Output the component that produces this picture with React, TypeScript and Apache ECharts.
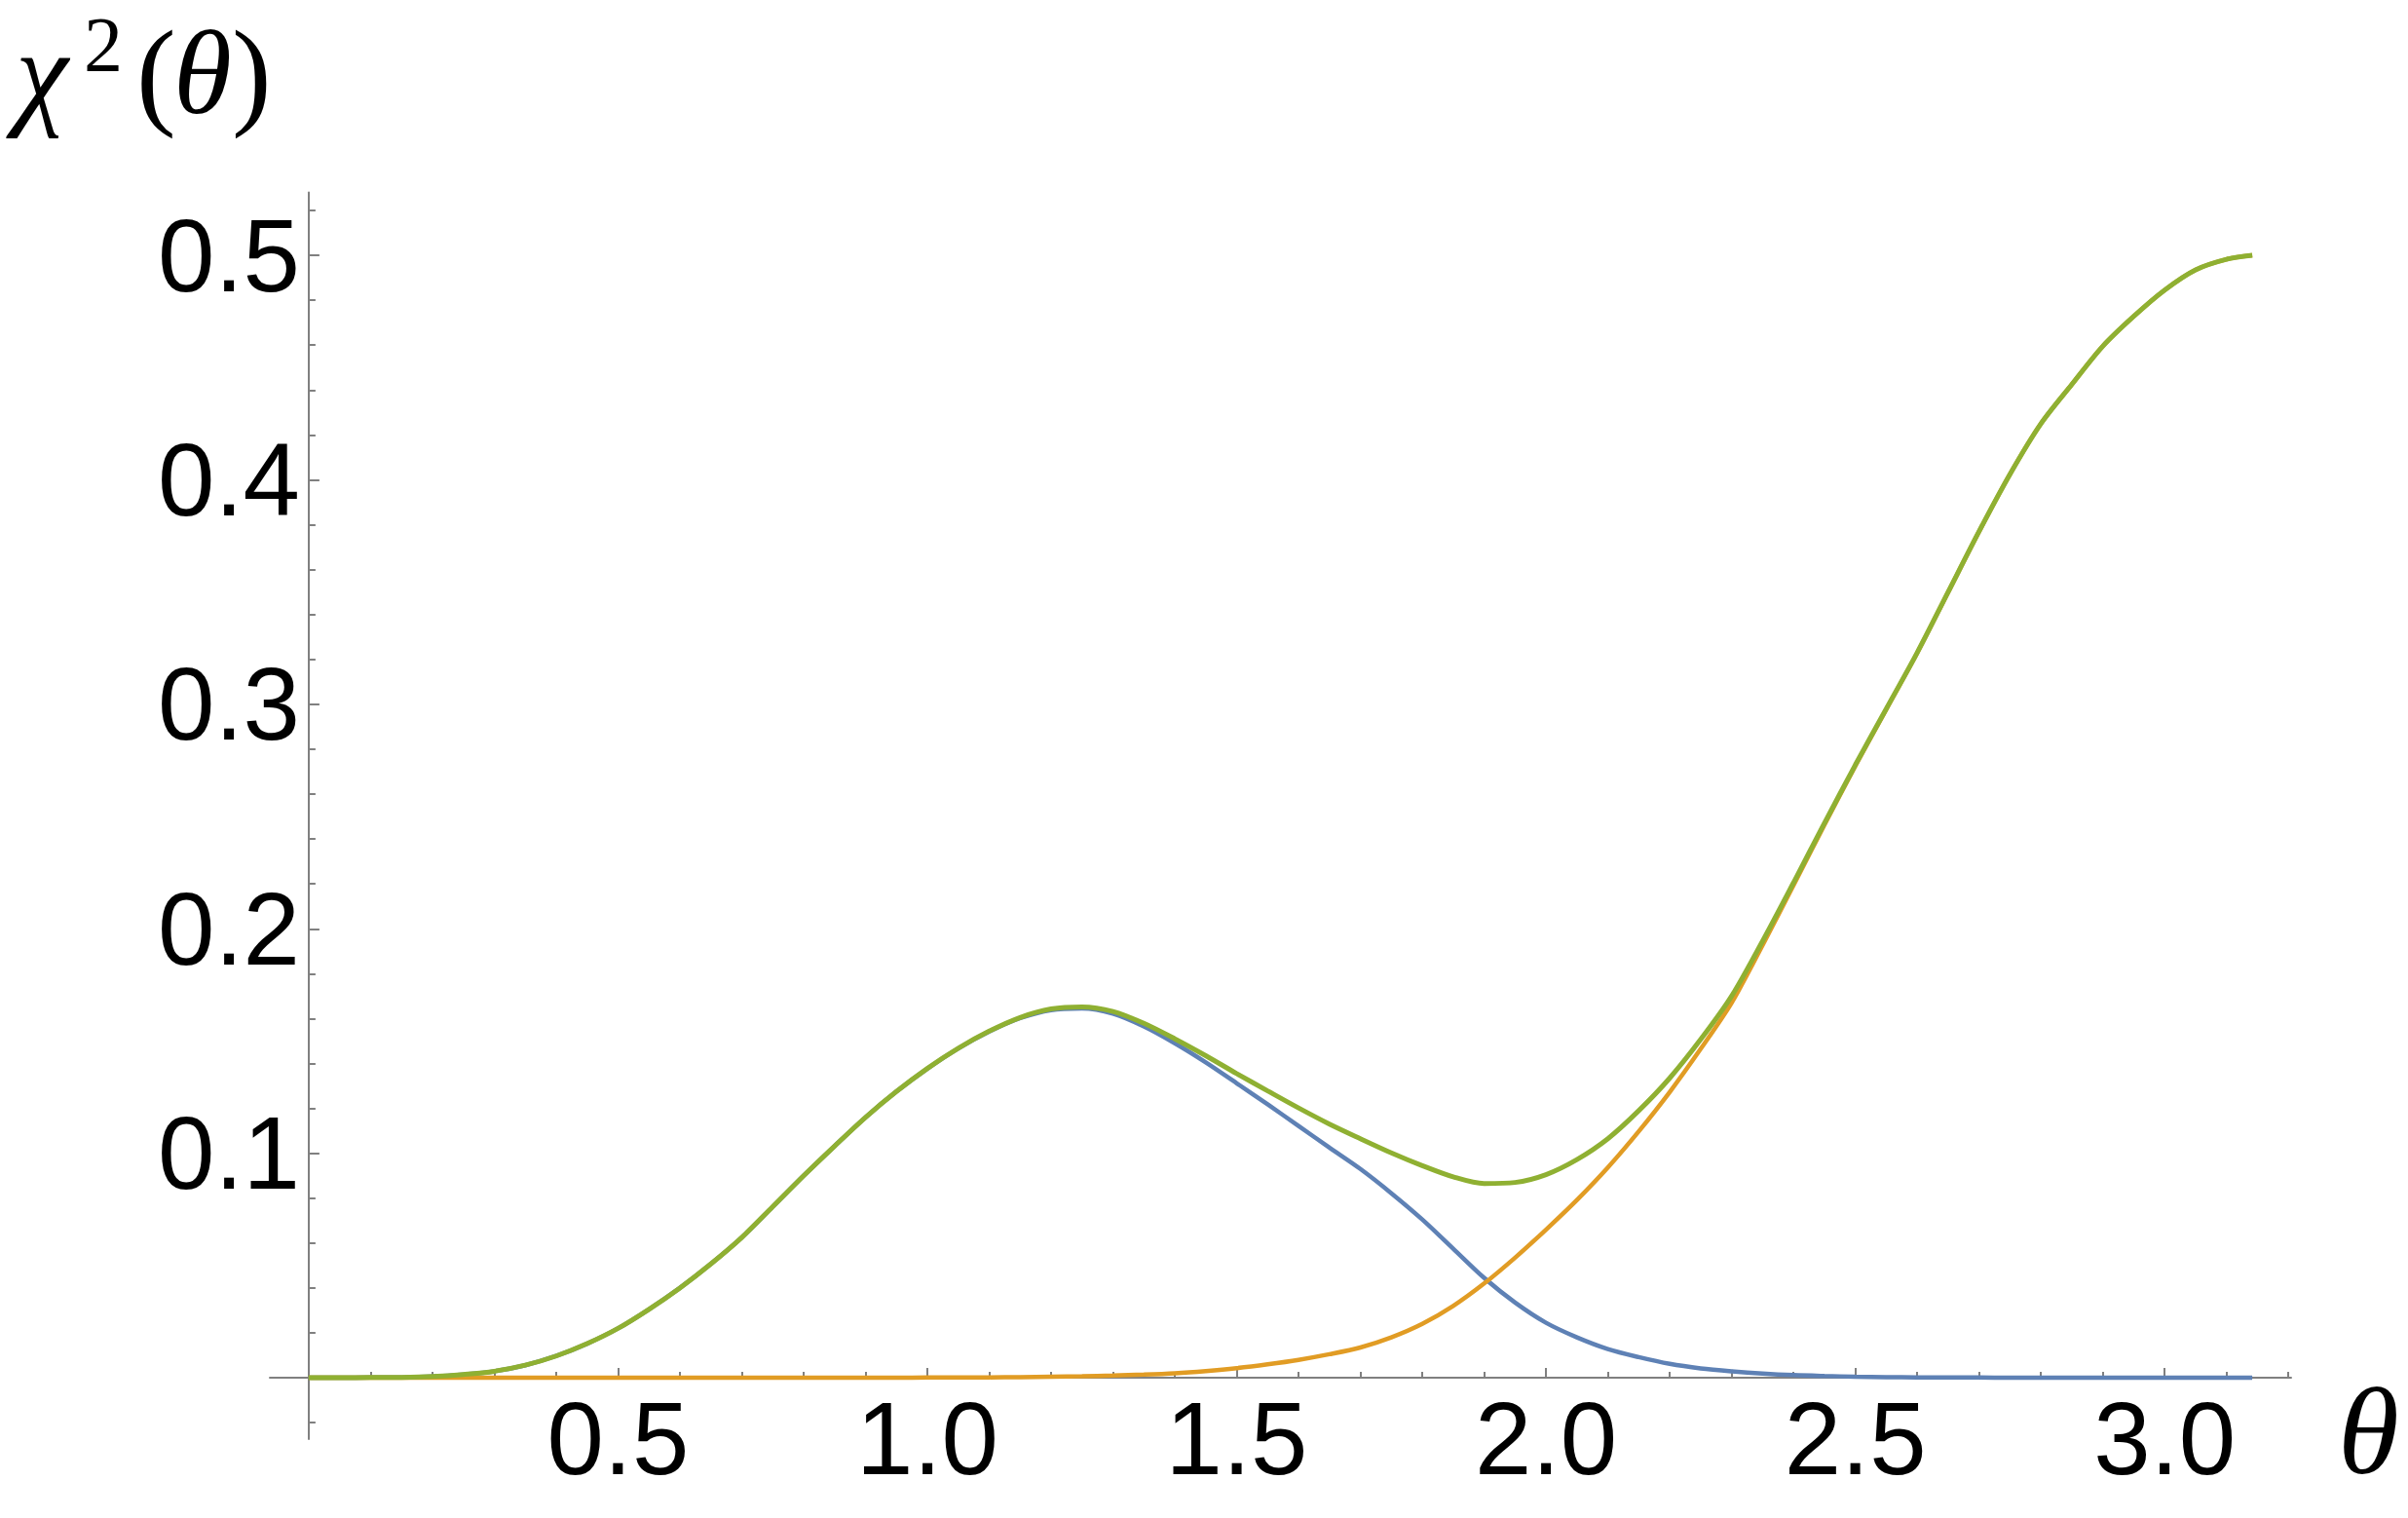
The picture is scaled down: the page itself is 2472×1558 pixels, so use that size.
import React, { useEffect, useRef } from "react";
import * as echarts from "echarts";

// θ sample positions (radians)
const theta = [
  0, 0.05, 0.1, 0.15, 0.2, 0.25, 0.3, 0.35, 0.4, 0.45,
  0.5, 0.55, 0.6, 0.65, 0.7, 0.75, 0.8, 0.85, 0.9, 0.95,
  1.0, 1.05, 1.1, 1.15, 1.2, 1.25, 1.3, 1.35, 1.4, 1.45,
  1.5, 1.55, 1.6, 1.65, 1.7, 1.75, 1.8, 1.85, 1.9, 1.95,
  2.0, 2.05, 2.1, 2.15, 2.2, 2.25, 2.3, 2.35, 2.4, 2.45,
  2.5, 2.55, 2.6, 2.65, 2.7, 2.75, 2.8, 2.85, 2.9, 2.95,
  3.0, 3.05, 3.1, 3.1416,
];
// blue curve
const chiBlue = [
  0, 0, 0.0001, 0.0002, 0.0006, 0.0015, 0.0029, 0.0056, 0.0097, 0.0152,
  0.022, 0.0305, 0.04, 0.0507, 0.0625, 0.0762, 0.09, 0.1032, 0.116, 0.1275,
  0.1377, 0.1467, 0.1542, 0.1602, 0.1638, 0.1645, 0.1622, 0.1565, 0.149, 0.1405,
  0.1312, 0.1218, 0.1122, 0.1025, 0.093, 0.0822, 0.0705, 0.0575, 0.0445, 0.0335,
  0.0245, 0.018, 0.0128, 0.0092, 0.0062, 0.0042, 0.0029, 0.0019, 0.0012, 0.0008,
  0.0005, 0.0003, 0.0002, 0.0001, 0.0001, 0, 0, 0, 0, 0,
  0, 0, 0, 0,
];
// orange curve
const chiOrange = [
  0, 0, 0, 0, 0, 0, 0, 0, 0, 0,
  0, 0, 0, 0, 0, 0, 0, 0, 0, 0,
  0.0001, 0.0001, 0.0002, 0.0003, 0.0005, 0.0007, 0.001, 0.0014, 0.002, 0.003,
  0.0043, 0.006, 0.008, 0.0105, 0.0135, 0.018, 0.024, 0.032, 0.042, 0.0535,
  0.066, 0.0792, 0.0937, 0.1098, 0.1273, 0.1465, 0.167, 0.1926, 0.2193, 0.2462,
  0.2725, 0.2977, 0.3228, 0.3499, 0.3769, 0.4025, 0.425, 0.4425, 0.4595, 0.4728,
  0.4845, 0.4935, 0.4982, 0.5,
];
// green curve
const chiGreen = [
  0, 0, 0.0001, 0.0002, 0.0006, 0.0015, 0.0029, 0.0056, 0.0097, 0.0152,
  0.022, 0.0305, 0.04, 0.0507, 0.0625, 0.0762, 0.09, 0.1032, 0.116, 0.1275,
  0.1378, 0.1468, 0.1544, 0.1605, 0.1643, 0.1652, 0.1632, 0.1579, 0.151, 0.1435,
  0.1355, 0.1278, 0.1202, 0.113, 0.1065, 0.1002, 0.0945, 0.0895, 0.0865, 0.087,
  0.0905, 0.0972, 0.1065, 0.119, 0.1335, 0.1507, 0.17, 0.1945, 0.2205, 0.247,
  0.273, 0.298, 0.323, 0.35, 0.377, 0.4025, 0.425, 0.4425, 0.4595, 0.4728,
  0.4845, 0.4935, 0.4982, 0.5,
];

const xMajorTicks = [0.5, 1.0, 1.5, 2.0, 2.5, 3.0];
const xMinorTicks = [0.1, 0.2, 0.3, 0.4, 0.6, 0.7, 0.8, 0.9, 1.1, 1.2, 1.3, 1.4, 1.6, 1.7, 1.8, 1.9, 2.1, 2.2, 2.3, 2.4, 2.6, 2.7, 2.8, 2.9, 3.1, 3.2];
const yMajorTicks = [0.1, 0.2, 0.3, 0.4, 0.5];
const yMinorTicks = [-0.02, 0.02, 0.04, 0.06, 0.08, 0.12, 0.14, 0.16, 0.18, 0.22, 0.24, 0.26, 0.28, 0.32, 0.34, 0.36, 0.38, 0.42, 0.44, 0.46, 0.48, 0.52];

const X_MIN = -0.0628;
const X_MAX = 3.2044;
const Y_MIN = -0.0273;
const Y_MAX = 0.528;

const AXIS_COLOR = "#808080";
const LABEL_FONT = "'Liberation Sans', Arial, sans-serif";
const MATH_FONT = "'Liberation Serif', 'Times New Roman', serif";

function pairs(ys: number[]) {
  return theta.map((t, i) => [t, ys[i]]);
}

export default function App() {
  const ref = useRef<HTMLDivElement | null>(null);

  useEffect(() => {
    if (!ref.current) return;
    const chart = echarts.init(ref.current, undefined, { renderer: "svg" });

    const baseX = {
      type: "value" as const,
      min: X_MIN,
      max: X_MAX,
      position: "bottom" as const,
      splitLine: { show: false },
    };
    const baseY = {
      type: "value" as const,
      min: Y_MIN,
      max: Y_MAX,
      position: "left" as const,
      splitLine: { show: false },
    };

    const mathText = (text: string, x: number, y: number, size: number, italic: boolean) => ({
      type: "text",
      x,
      y,
      style: {
        text,
        fontSize: size,
        fontStyle: italic ? "italic" : "normal",
        fontFamily: MATH_FONT,
        fill: "#000",
        verticalAlign: "middle",
        align: "left",
      },
    });

    const lineSeries = (name: string, ys: number[], color: string, width: number, z: number) => ({
      type: "line",
      name,
      data: pairs(ys),
      xAxisIndex: 0,
      yAxisIndex: 0,
      showSymbol: false,
      smooth: 0.3,
      lineStyle: { color, width },
      itemStyle: { color },
      z,
    });

    chart.setOption({
      animation: false,
      backgroundColor: "#ffffff",
      grid: {
        left: 277,
        right: 2472 - 2352,
        top: 197.5,
        bottom: 1558 - 1477,
        containLabel: false,
        outerBoundsMode: "none",
      },
      xAxis: [
        {
          ...baseX,
          axisLine: { show: true, onZero: true, lineStyle: { color: AXIS_COLOR, width: 2 } },
          axisTick: { show: true, inside: true, length: 10, customValues: xMajorTicks, lineStyle: { color: AXIS_COLOR, width: 2 } },
          axisLabel: {
            show: true,
            customValues: xMajorTicks,
            formatter: (v: number) => v.toFixed(1),
            fontSize: 105,
            fontFamily: LABEL_FONT,
            color: "#000",
            margin: -53,
          },
        },
        {
          ...baseX,
          axisLine: { show: false, onZero: true },
          axisTick: { show: true, inside: true, length: 6, customValues: xMinorTicks, lineStyle: { color: AXIS_COLOR, width: 2 } },
          axisLabel: { show: false },
        },
      ],
      yAxis: [
        {
          ...baseY,
          axisLine: { show: true, onZero: true, lineStyle: { color: AXIS_COLOR, width: 2 } },
          axisTick: { show: true, inside: true, length: 11, customValues: yMajorTicks, lineStyle: { color: AXIS_COLOR, width: 2 } },
          axisLabel: {
            show: true,
            customValues: yMajorTicks,
            formatter: (v: number) => v.toFixed(1),
            fontSize: 105,
            fontFamily: LABEL_FONT,
            color: "#000",
            margin: -31,
          },
        },
        {
          ...baseY,
          axisLine: { show: false, onZero: true },
          axisTick: { show: true, inside: true, length: 7, customValues: yMinorTicks, lineStyle: { color: AXIS_COLOR, width: 2 } },
          axisLabel: { show: false },
        },
      ],
      series: [
        lineSeries("blue", chiBlue, "#5E81B5", 4.5, 3),
        lineSeries("orange", chiOrange, "#E19C24", 4.5, 4),
        lineSeries("green", chiGreen, "#8FB032", 5, 5),
      ],
      graphic: [
        mathText("χ", 16, 74, 122, true),
        mathText("2", 86, 46, 80, false),
        mathText("(", 140, 74, 122, false),
        mathText("θ", 178, 74, 122, true),
        mathText(")", 238, 74, 122, false),
        mathText("θ", 2400, 1469, 128, true),
      ],
    });

    return () => chart.dispose();
  }, []);

  return (
    <div
      ref={ref}
      style={{ position: "absolute", left: 0, top: 0, width: 2472, height: 1558, background: "#fff" }}
    />
  );
}
